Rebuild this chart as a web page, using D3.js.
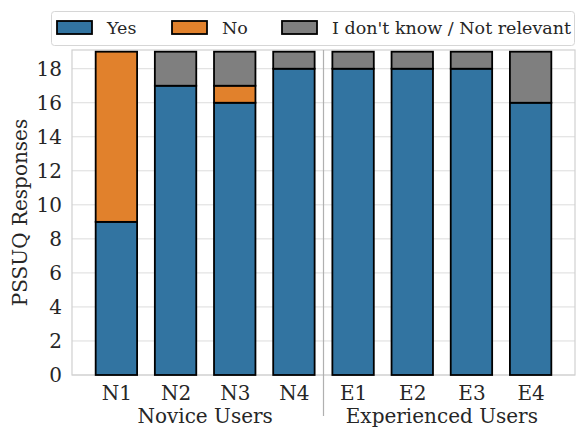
<!DOCTYPE html>
<html>
<head>
<meta charset="utf-8">
<script src="https://cdn.jsdelivr.net/npm/d3@7"></script>
<style>
body { margin: 0; background: #fff; }
text { font-family: 'DejaVu Serif', serif; fill: #262626; }
</style>
</head>
<body>
<div class="container"></div>
<script>
var w = 576,
h = 428;

var users = ['N1', 'N2', 'N3', 'N4', 'E1', 'E2', 'E3', 'E4'];
var yes = [9, 17, 16, 18, 18, 18, 18, 16];
var no = [10, 0, 1, 0, 0, 0, 0, 0];
var dontKnow = [0, 2, 2, 1, 1, 1, 1, 3];
var seriesNames = ['Yes', 'No', "I don't know / Not relevant"];
var seriesColors = ['#3274a1', '#e1812c', '#7f7f7f'];
var groups = ['Novice Users', 'Experienced Users'];
var yTicks = [0, 2, 4, 6, 8, 10, 12, 14, 16, 18];

var serif = "'DejaVu Serif', serif";

var rows = users.map(function(u, i) {
  return {user: u, Yes: yes[i], No: no[i], "I don't know / Not relevant": dontKnow[i]};
});
var stacked = d3.stack().keys(seriesNames)(rows);

var svg = d3.select('.container')
.append('svg')
.attr('width', w)
.attr('height', h);

var plotL = 72, plotR = 575, plotT = 50, plotB = 375;

// bar i sits at position i, xlim -0.75..7.75 like matplotlib
var xScale = d3.scaleLinear()
.domain([-0.75, users.length - 0.25])
.range([plotL, plotR]);

var yScale = d3.scaleLinear()
.domain([0, 19.1])
.range([plotB, plotT]);

// grid
svg.append('g').selectAll('line')
.data(yTicks)
.enter()
.append('line')
.attr('x1', plotL)
.attr('x2', plotR)
.attr('y1', function(d) { return yScale(d); })
.attr('y2', function(d) { return yScale(d); })
.style('stroke', '#dcdcdc')
.style('stroke-width', 1);

svg.append('rect')
.attr('x', plotL)
.attr('y', plotT)
.attr('width', plotR - plotL)
.attr('height', plotB - plotT)
.style('fill', 'none')
.style('stroke', '#d0d0d0')
.style('stroke-width', 1.2);

// y axis
var yAxis = d3.axisLeft(yScale).tickValues(yTicks).tickSize(0).tickPadding(10);
var yAxisGroup = svg.append('g')
.attr('transform', 'translate(' + plotL + ',0)')
.attr('font-family', null)
.call(yAxis);
yAxisGroup.select('.domain').remove();
yAxisGroup.selectAll('text')
.style('font-family', serif)
.style('font-size', '20px')
.style('fill', '#262626');

// x axis
var xAxis = d3.axisBottom(xScale)
.tickValues(d3.range(users.length))
.tickFormat(function(i) { return users[i]; })
.tickSize(0).tickPadding(8);
var xAxisGroup = svg.append('g')
.attr('transform', 'translate(0,' + plotB + ')')
.call(xAxis);
xAxisGroup.select('.domain').remove();
xAxisGroup.selectAll('text')
.attr('dy', null)
.attr('y', 25)
.style('font-family', serif)
.style('font-size', '20px')
.style('fill', '#262626');

// bars
var barW = xScale(0.7) - xScale(0);
svg.append('g').selectAll('g')
.data(stacked)
.enter()
.append('g')
.style('fill', function(d, i) { return seriesColors[i]; })
.selectAll('rect')
.data(function(d) { return d.filter(function(p) { return p[1] > p[0]; }); })
.enter()
.append('rect')
.attr('x', function(d) { return xScale(users.indexOf(d.data.user)) - barW / 2; })
.attr('y', function(d) { return yScale(d[1]); })
.attr('width', barW)
.attr('height', function(d) { return yScale(d[0]) - yScale(d[1]); })
.style('stroke', '#000')
.style('stroke-width', 1.8);

// group separator
svg.append('line')
.attr('x1', xScale(3.5))
.attr('x2', xScale(3.5))
.attr('y1', plotT)
.attr('y2', 416)
.style('stroke', '#b0b0b0')
.style('stroke-width', 1.2);

// group labels
svg.selectAll('.group')
.data(groups)
.enter()
.append('text')
.attr('class', 'group')
.attr('x', function(d, i) { return xScale(i * 4 + 1.5); })
.attr('y', 423)
.attr('text-anchor', 'middle')
.style('font-family', serif)
.style('font-size', '20px')
.text(function(d) { return d; });

svg.append('text')
.attr('transform', 'rotate(-90)')
.attr('x', -(plotT + plotB) / 2)
.attr('y', 27)
.attr('text-anchor', 'middle')
.style('font-family', serif)
.style('font-size', '20px')
.text('PSSUQ Responses');

// legend
var legend = svg.append('g');
legend.append('rect')
.attr('x', 51.5)
.attr('y', 11.5)
.attr('width', 523)
.attr('height', 34)
.attr('rx', 3)
.style('fill', '#fff')
.style('stroke', '#d6d6d6');

var legendX = [57, 172, 282];
var items = legend.selectAll('.item')
.data(seriesNames)
.enter()
.append('g')
.attr('class', 'item')
.attr('transform', function(d, i) { return 'translate(' + legendX[i] + ',0)'; });
items.append('rect')
.attr('x', 0)
.attr('y', 21)
.attr('width', 35)
.attr('height', 13)
.style('fill', function(d, i) { return seriesColors[i]; })
.style('stroke', '#000')
.style('stroke-width', 1.8);
items.append('text')
.attr('x', 50)
.attr('y', 34)
.style('font-family', serif)
.style('font-size', '17.5px')
.text(function(d) { return d; });
</script>
</body>
</html>
